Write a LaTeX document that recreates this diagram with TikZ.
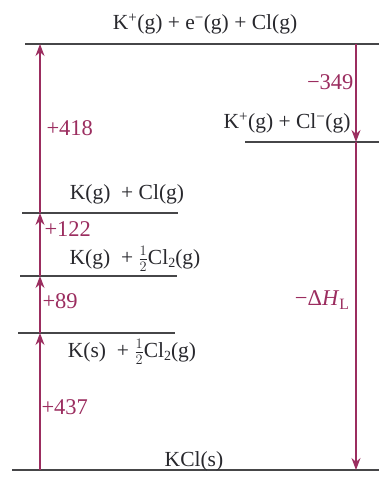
\documentclass[tikz,border=0pt]{standalone}
\usepackage{amsmath}
\usepackage{fontspec}
\setmainfont{Liberation Serif}
\usetikzlibrary{arrows.meta}
\definecolor{arrC}{RGB}{155,45,95}
\definecolor{lineC}{RGB}{70,70,72}
\definecolor{textC}{RGB}{40,40,45}
\newcommand{\lowsub}[1]{\raisebox{-0.35ex}{\scriptsize\fontsize{14}{14}\selectfont #1}}

\begin{document}
\begin{tikzpicture}[
  level/.style={line width=1.8pt, draw=lineC},
  jump/.style={line width=1.2pt, draw=arrC, -{Stealth[length=12pt,width=9pt]}},
  species/.style={font=\fontsize{21.5}{24}\selectfont, text=textC},
  enth/.style={font=\fontsize{22.5}{24}\selectfont, text=arrC},
  x=1pt, y=-1pt  % pixel scale of the 379x480 reference, y downwards
]
\useasboundingbox (0,0) rectangle (379,480);

% ---------- energy levels ----------
\coordinate (topL) at (25,44);   \coordinate (topR) at (379,44);
\coordinate (ionL) at (245,142); \coordinate (ionR) at (379,142);
\coordinate (atmL) at (22,213);  \coordinate (atmR) at (178,213);
\coordinate (gasL) at (20,276);  \coordinate (gasR) at (177,276);
\coordinate (solL) at (18,333);  \coordinate (solR) at (175,333);
\coordinate (kclL) at (12,470);  \coordinate (kclR) at (379,470);

\draw[level] (topL) -- (topR);
\draw[level] (ionL) -- (ionR);
\draw[level] (atmL) -- (atmR);
\draw[level] (gasL) -- (gasR);
\draw[level] (solL) -- (solR);
\draw[level] (kclL) -- (kclR);

\node[species] (topT) at (205,24) {K\textsuperscript{+}(g) + e\textsuperscript{−}(g) + Cl(g)};
\node[species] (ionT) at (287,123) {K\textsuperscript{+}(g) + Cl\textsuperscript{−}(g)};
\node[species] (atmT) at (127,194) {K(g) \ + Cl(g)};
\node[species] (gasT) at (135,259) {K(g) \ + \(\tfrac{1}{2}\)Cl\lowsub{2}(g)};
\node[species] (solT) at (132,352) {K(s) \ + \(\tfrac{1}{2}\)Cl\lowsub{2}(g)};
\node[species] (kclT) at (194,461) {KCl(s)};

% ---------- left column: up the cycle ----------
\coordinate (up0) at (40,470);
\coordinate (up1) at (40,333);
\coordinate (up2) at (40,276);
\coordinate (up3) at (40,213);
\coordinate (up4) at (40,44);

\draw[jump] (up0) -- (up1);
\draw[jump] (up1) -- (up2);
\draw[jump] (up2) -- (up3);
\draw[jump] (up3) -- (up4);

\node[enth, anchor=west] (h437) at (38,407) {+437};
\node[enth, anchor=west] (h89)  at (39,301) {+89};
\node[enth, anchor=west] (h122) at (41,229) {+122};
\node[enth, anchor=west] (h418) at (43,128) {+418};

% ---------- right column: down again ----------
\coordinate (dn0) at (356,44);
\coordinate (dn1) at (356,142);
\coordinate (dn2) at (356,470);

\draw[jump] (dn0) -- (dn1);
\draw[jump] (dn1) -- (dn2);

\node[enth, anchor=east] (h349) at (357,82) {−349};
\node[enth, anchor=east] (hlat) at (353,300) {−Δ\textit{H}\textsubscript{L}};

\end{tikzpicture}
\end{document}
